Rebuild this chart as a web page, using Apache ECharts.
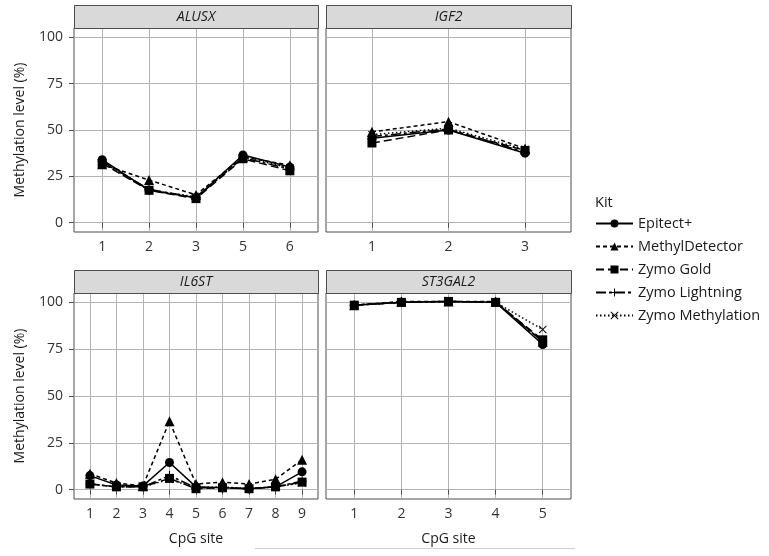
<!DOCTYPE html>
<html><head><meta charset="utf-8">
<script src="https://cdn.jsdelivr.net/npm/echarts@6/dist/echarts.min.js"></script>
<style>html,body{margin:0;padding:0;background:#fff}#c{width:769px;height:556px}</style>
</head><body><div id="c"></div>
<script>
var kits = ['Epitect+', 'MethylDetector', 'Zymo Gold', 'Zymo Lightning', 'Zymo Methylation'];
var genes = ['ALUSX', 'IGF2', 'IL6ST', 'ST3GAL2'];
var sitesALUSX = ['1', '2', '3', '5', '6'];
var sitesIGF2 = ['1', '2', '3'];
var sitesIL6ST = ['1', '2', '3', '4', '5', '6', '7', '8', '9'];
var sitesST3GAL2 = ['1', '2', '3', '4', '5'];
var yTicks = [0, 25, 50, 75, 100];

var alusxEpitect = [34, 17.5, 13.5, 36.5, 30];
var alusxMethylDetector = [31.5, 23, 15, 35.5, 31];
var alusxZymoGold = [32, 17.5, 13, 34.5, 28];
var alusxZymoLightning = [33, 18, 13.5, 35, 29];
var alusxZymoMethylation = [32.5, 17.5, 14, 35.5, 29.5];

var igf2Epitect = [45.5, 50, 37.5];
var igf2MethylDetector = [49, 54.5, 40];
var igf2ZymoGold = [43, 50, 39];
var igf2ZymoLightning = [46.5, 50.5, 38];
var igf2ZymoMethylation = [47.5, 51, 39.5];

var il6stEpitect = [7.5, 2.5, 2, 14.5, 1.5, 1, 0.5, 1.5, 9.5];
var il6stMethylDetector = [8.5, 3.5, 2, 36.5, 3, 4, 3, 5.5, 16];
var il6stZymoGold = [3, 1.5, 1.5, 6, 0.5, 1, 0.5, 1.5, 4];
var il6stZymoLightning = [3, 1.5, 1.5, 7.5, 1, 1, 0.5, 1.5, 4.5];
var il6stZymoMethylation = [3, 1.5, 1.5, 5.5, 1, 1.5, 0.5, 1.5, 3.5];

var st3Epitect = [98.5, 100, 100.5, 100, 77.5];
var st3MethylDetector = [98.5, 100.5, 100.5, 100.5, 79];
var st3ZymoGold = [98.5, 100, 100.5, 100, 80];
var st3ZymoLightning = [98.5, 100, 100.5, 100, 79];
var st3ZymoMethylation = [98.5, 100, 100.5, 100, 85.5];

var panelSites = [sitesALUSX, sitesIGF2, sitesIL6ST, sitesST3GAL2];
var panelData = [
  [alusxEpitect, alusxMethylDetector, alusxZymoGold, alusxZymoLightning, alusxZymoMethylation],
  [igf2Epitect, igf2MethylDetector, igf2ZymoGold, igf2ZymoLightning, igf2ZymoMethylation],
  [il6stEpitect, il6stMethylDetector, il6stZymoGold, il6stZymoLightning, il6stZymoMethylation],
  [st3Epitect, st3MethylDetector, st3ZymoGold, st3ZymoLightning, st3ZymoMethylation]
];

var FONT = 'Open Sans';
var grids = [
  {left: 74, top: 28, width: 244, height: 204},
  {left: 326, top: 28, width: 245, height: 204},
  {left: 74, top: 293, width: 244, height: 206},
  {left: 326, top: 293, width: 245, height: 206}
];
var plusPath = 'path://M-1,-0.12H1V0.12H-1Z M-0.12,-1H0.12V1H-0.12Z';
var crossPath = 'path://M-0.9,-0.75L-0.75,-0.9L0.9,0.75L0.75,0.9Z M0.75,-0.9L0.9,-0.75L-0.75,0.9L-0.9,0.75Z';
var kitStyle = [
  {symbol: 'circle', size: 9, dash: 'solid'},
  {symbol: 'triangle', size: 10, dash: [4, 3]},
  {symbol: 'rect', size: 9, dash: [8, 4]},
  {symbol: plusPath, size: 9, dash: [10, 3, 3, 3]},
  {symbol: crossPath, size: 8, dash: [1.5, 2.5]}
];

var xAxes = [], yAxes = [], series = [], gridOpts = [], graphics = [];
grids.forEach(function (g, p) {
  gridOpts.push({left: g.left, top: g.top, width: g.width, height: g.height, show: true,
    borderColor: '#4d4d4d', borderWidth: 1, backgroundColor: '#fff', containLabel: false});
  var labels = panelSites[p];
  var vals = labels.map(function (_, i) { return i + 1; });
  var bottom = p >= 2;
  xAxes.push({type: 'value', gridIndex: p, min: 0.4, max: labels.length + 0.6,
    name: bottom ? 'CpG site' : '', nameLocation: 'middle', nameGap: 33,
    nameTextStyle: {fontFamily: FONT, fontSize: 14, color: '#1a1a1a'},
    axisLine: {show: false},
    axisTick: {show: true, length: 5, lineStyle: {color: '#4d4d4d'}, customValues: vals},
    axisLabel: {show: true, customValues: vals, margin: 8, fontFamily: FONT, fontSize: 14, color: '#333',
      formatter: function (v) { return labels[Math.round(v) - 1]; }},
    splitLine: {show: true, lineStyle: {color: '#b3b3b3', width: 1}}
  });
  var left = (p % 2) === 0;
  yAxes.push({type: 'value', gridIndex: p, min: -5, max: 105,
    name: left ? 'Methylation level (%)' : '', nameLocation: 'middle', nameGap: 47,
    nameTextStyle: {fontFamily: FONT, fontSize: 14, color: '#1a1a1a'},
    axisLine: {show: false},
    axisTick: {show: left, length: 5, lineStyle: {color: '#4d4d4d'}, customValues: yTicks},
    axisLabel: {show: left, customValues: yTicks, margin: 11, fontFamily: FONT, fontSize: 14, color: '#333'},
    splitLine: {show: true, lineStyle: {color: '#b3b3b3', width: 1}}
  });
  kits.forEach(function (k, ki) {
    var st = kitStyle[ki];
    series.push({type: 'line', name: k, xAxisIndex: p, yAxisIndex: p,
      data: panelData[p][ki].map(function (v, i) { return [i + 1, v]; }),
      symbol: st.symbol, symbolSize: st.size, showSymbol: true,
      lineStyle: {color: '#000', width: 1.5, type: st.dash},
      itemStyle: {color: '#000', borderColor: '#000', borderWidth: 0},
      emphasis: {disabled: true}, animation: false, z: 2 + ki
    });
  });
  var stripTop = p < 2 ? 5 : 270;
  graphics.push({type: 'rect', shape: {x: g.left + 0.5, y: stripTop + 0.5, width: g.width, height: 23},
    style: {fill: '#d9d9d9', stroke: '#4d4d4d', lineWidth: 1}, z: 10});
  graphics.push({type: 'text', x: g.left + g.width / 2, y: stripTop + 12,
    style: {text: genes[p], fontFamily: FONT, fontSize: 14, fontStyle: 'italic', fill: '#1a1a1a', align: 'center', verticalAlign: 'middle'}, z: 11});
});
graphics.push({type: 'text', x: 595, y: 203, style: {text: 'Kit', fontFamily: FONT, fontSize: 14.5, fill: '#1a1a1a', verticalAlign: 'middle'}});
graphics.push({type: 'line', shape: {x1: 255, y1: 548.5, x2: 575, y2: 548.5}, style: {stroke: '#cfcfcf', lineWidth: 1}});

var chart = echarts.init(document.getElementById('c'), null, {renderer: 'canvas'});
chart.setOption({
  animation: false,
  backgroundColor: '#fff',
  grid: gridOpts,
  xAxis: xAxes,
  yAxis: yAxes,
  series: series,
  legend: {data: kits, orient: 'vertical', left: 595, top: 216, padding: 0, itemWidth: 37, itemHeight: 10, itemGap: 8,
    selectedMode: false,
    textStyle: {fontFamily: FONT, fontSize: 14.5, color: '#1a1a1a'}},
  graphic: graphics
});
</script></body></html>
